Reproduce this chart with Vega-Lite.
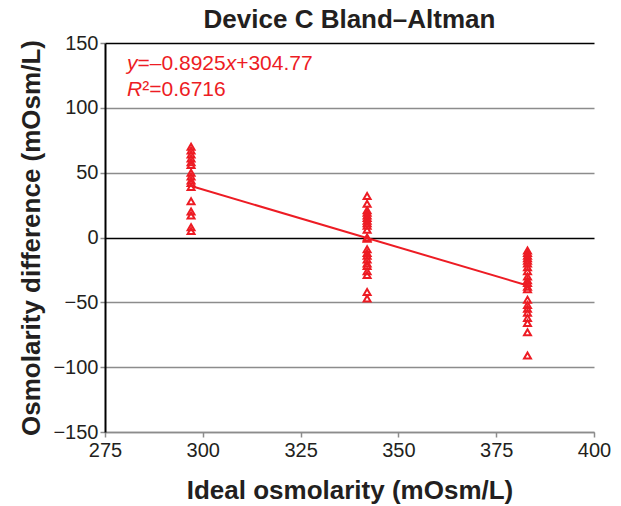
{
  "$schema": "https://vega.github.io/schema/vega-lite/v6.json",
  "width": 489,
  "height": 389,
  "autosize": {"type": "none"},
  "padding": {"left": 105, "top": 43, "right": 27, "bottom": 74},
  "background": "white",
  "title": {"text": "Device C Bland–Altman", "fontSize": 26, "font": "Liberation Sans", "fontWeight": "bold", "color": "#231f20", "anchor": "middle", "offset": 0},
  "config": {"view": {"stroke": null}},
  "datasets": {
    "points": [
      {"x": 297, "y": 70}, {"x": 297, "y": 67}, {"x": 297, "y": 64}, {"x": 297, "y": 61}, {"x": 297, "y": 58},
      {"x": 297, "y": 56}, {"x": 297, "y": 50}, {"x": 297, "y": 47}, {"x": 297, "y": 44}, {"x": 297, "y": 42},
      {"x": 297, "y": 39}, {"x": 297, "y": 28}, {"x": 297, "y": 20}, {"x": 297, "y": 17}, {"x": 297, "y": 8},
      {"x": 297, "y": 5},
      {"x": 342, "y": 32}, {"x": 342, "y": 26}, {"x": 342, "y": 21}, {"x": 342, "y": 19}, {"x": 342, "y": 17},
      {"x": 342, "y": 15}, {"x": 342, "y": 13}, {"x": 342, "y": 11}, {"x": 342, "y": 9}, {"x": 342, "y": 6},
      {"x": 342, "y": 0}, {"x": 342, "y": -1}, {"x": 342, "y": -9}, {"x": 342, "y": -12}, {"x": 342, "y": -14},
      {"x": 342, "y": -17}, {"x": 342, "y": -20}, {"x": 342, "y": -22}, {"x": 342, "y": -26}, {"x": 342, "y": -29},
      {"x": 342, "y": -42}, {"x": 342, "y": -47},
      {"x": 383, "y": -10}, {"x": 383, "y": -12}, {"x": 383, "y": -14}, {"x": 383, "y": -16}, {"x": 383, "y": -18},
      {"x": 383, "y": -20}, {"x": 383, "y": -23}, {"x": 383, "y": -26}, {"x": 383, "y": -30}, {"x": 383, "y": -33},
      {"x": 383, "y": -35}, {"x": 383, "y": -38}, {"x": 383, "y": -40}, {"x": 383, "y": -48}, {"x": 383, "y": -52},
      {"x": 383, "y": -55}, {"x": 383, "y": -58}, {"x": 383, "y": -62}, {"x": 383, "y": -66}, {"x": 383, "y": -73},
      {"x": 383, "y": -91}
    ],
    "fit": [{"x": 297, "y": 39.7}, {"x": 383, "y": -37.0}],
    "eqItalic": [
      {"x": 280.62, "y": 129, "t": "y"},
      {"x": 305.85, "y": 129, "t": "x"},
      {"x": 280.62, "y": 109, "t": "R"}
    ],
    "eqPlain": [
      {"x": 283.31, "y": 129, "t": "=–0.8925"},
      {"x": 308.53, "y": 129, "t": "+304.77"},
      {"x": 284.51, "y": 109, "t": "²=0.6716"}
    ]
  },
  "encoding": {
    "x": {
      "field": "x", "type": "quantitative",
      "scale": {"domain": [275, 400], "nice": false, "zero": false},
      "axis": {
        "values": [275, 300, 325, 350, 375, 400], "grid": false,
        "domainColor": "#8c8c8c", "domainWidth": 1.5,
        "tickColor": "#8c8c8c", "tickWidth": 1.5, "tickSize": 5,
        "labelFontSize": 20, "labelFont": "Liberation Sans", "labelColor": "#231f20", "labelPadding": 3, "labelFlush": false,
        "title": "Ideal osmolarity (mOsm/L)", "titleFontSize": 26, "titleFont": "Liberation Sans", "titleFontWeight": "bold", "titleColor": "#231f20", "titlePadding": 17
      }
    },
    "y": {
      "field": "y", "type": "quantitative",
      "scale": {"domain": [-150, 150], "nice": false, "zero": false},
      "axis": {
        "values": [-150, -100, -50, 0, 50, 100, 150], "grid": true,
        "gridColor": {"condition": {"test": "datum.value === 0 || datum.value === 150", "value": "#000000"}, "value": "#8c8c8c"},
        "gridWidth": 1.5,
        "domainColor": "#000000", "domainWidth": 2,
        "tickColor": "#8c8c8c", "tickWidth": 1.5, "tickSize": 5,
        "labelFontSize": 20, "labelFont": "Liberation Sans", "labelColor": "#231f20", "labelPadding": 2, "labelFlush": false,
        "title": "Osmolarity difference (mOsm/L)", "titleFontSize": 26, "titleFont": "Liberation Sans", "titleFontWeight": "bold", "titleColor": "#231f20", "titlePadding": 8
      }
    }
  },
  "layer": [
    {"data": {"name": "fit"}, "mark": {"type": "line", "color": "#ed1c24", "strokeWidth": 2}},
    {"data": {"name": "points"}, "mark": {"type": "point", "shape": "triangle-up", "filled": false, "color": "#ed1c24", "strokeWidth": 2, "size": 48, "opacity": 1}},
    {"data": {"name": "eqItalic"}, "mark": {"type": "text", "align": "left", "baseline": "alphabetic", "font": "Liberation Sans", "fontSize": 21, "fontStyle": "italic", "color": "#ed1c24"}, "encoding": {"text": {"field": "t"}}},
    {"data": {"name": "eqPlain"}, "mark": {"type": "text", "align": "left", "baseline": "alphabetic", "font": "Liberation Sans", "fontSize": 21, "color": "#ed1c24"}, "encoding": {"text": {"field": "t"}}}
  ]
}
